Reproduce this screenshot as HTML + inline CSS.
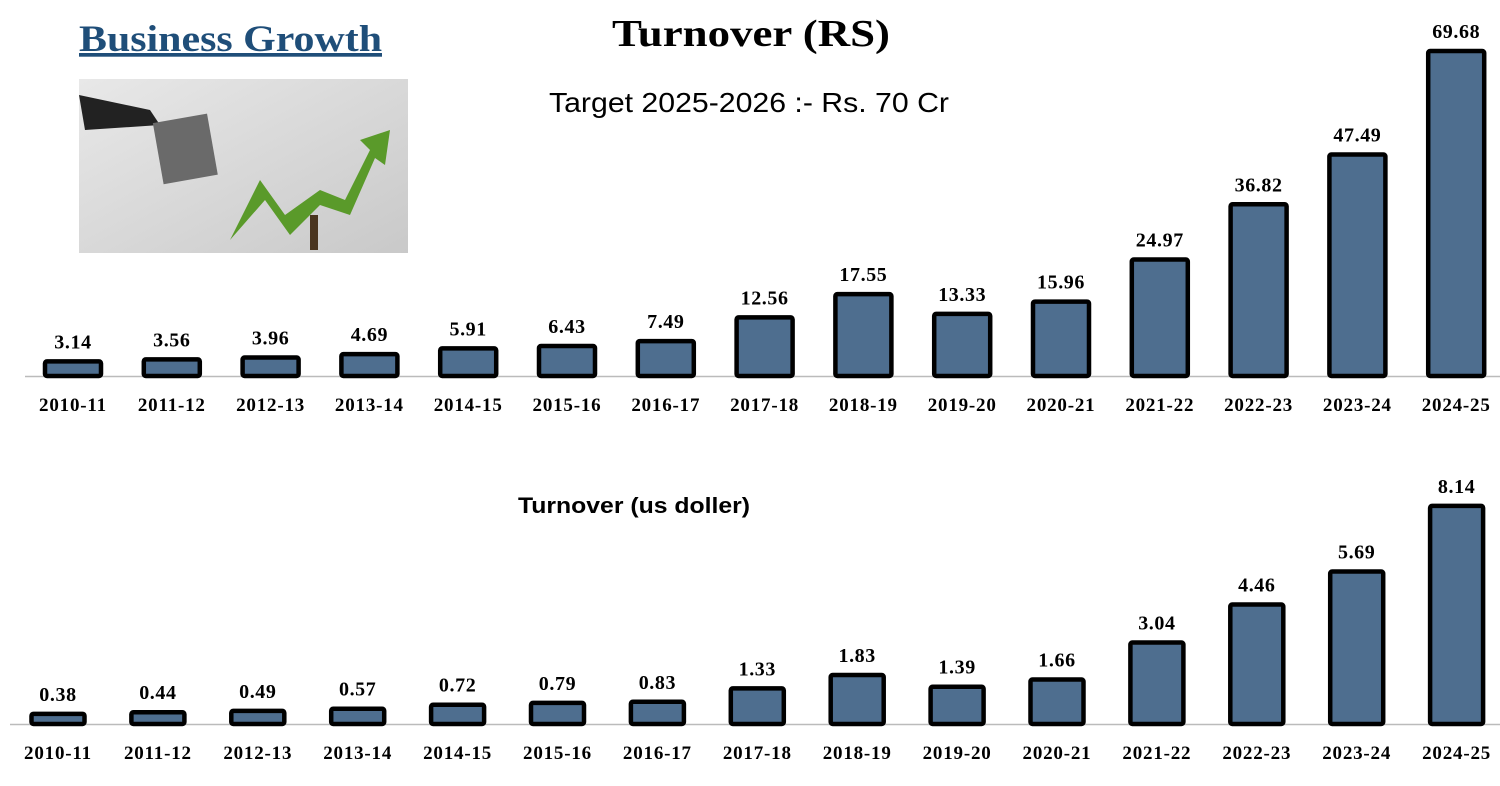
<!DOCTYPE html>
<html><head><meta charset="utf-8"><style>
body{margin:0;background:#fff;width:1500px;height:786px;overflow:hidden;}
svg{display:block}
</style></head><body>
<svg id="chart" width="1500" height="786" xmlns="http://www.w3.org/2000/svg">
<text x="79" y="51" font-family="Liberation Serif, serif" font-weight="bold" font-size="37" fill="#1f4e79" text-decoration="underline" textLength="303" lengthAdjust="spacingAndGlyphs">Business Growth</text>
<g>
<defs><linearGradient id="bg" x1="0" y1="0" x2="1" y2="1"><stop offset="0" stop-color="#e8e8e8"/><stop offset="1" stop-color="#c9c9c9"/></linearGradient></defs>
<rect x="79" y="79" width="329" height="174" fill="url(#bg)"/>
<path d="M79 95 L150 110 L160 125 L85 130 Z" fill="#222"/>
<rect x="158" y="118" width="55" height="62" fill="#6a6a6a" transform="rotate(-10 185 150)"/>
<path d="M230 240 L260 180 L285 215 L320 190 L345 200 L370 150 L360 140 L390 130 L385 165 L375 158 L350 215 L320 205 L290 235 L265 200 Z" fill="#5a9a2a"/>
<rect x="310" y="215" width="8" height="35" fill="#4a3520"/>
</g>
<text x="612" y="46" font-family="Liberation Serif, serif" font-weight="bold" font-size="38" fill="#000" textLength="278" lengthAdjust="spacingAndGlyphs">Turnover (RS)</text>
<text x="549" y="112" font-family="Liberation Sans, sans-serif" font-size="28" fill="#000" textLength="400" lengthAdjust="spacingAndGlyphs">Target 2025-2026 :- Rs. 70 Cr</text>
<text x="518" y="513" font-family="Liberation Sans, sans-serif" font-weight="bold" font-size="22" fill="#000" textLength="232" lengthAdjust="spacingAndGlyphs">Turnover (us doller)</text>
<line x1="25" y1="376.5" x2="1500" y2="376.5" stroke="#bbb" stroke-width="1.5"/>
<line x1="10" y1="724.5" x2="1500" y2="724.5" stroke="#bbb" stroke-width="1.5"/>
<g id="g1"></g><g id="g2"></g>
</svg>
<script>
const categories=["2010-11","2011-12","2012-13","2013-14","2014-15","2015-16","2016-17","2017-18","2018-19","2019-20","2020-21","2021-22","2022-23","2023-24","2024-25"];
const rsValues=[3.14,3.56,3.96,4.69,5.91,6.43,7.49,12.56,17.55,13.33,15.96,24.97,36.82,47.49,69.68];
const rsLabels=["3.14","3.56","3.96","4.69","5.91","6.43","7.49","12.56","17.55","13.33","15.96","24.97","36.82","47.49","69.68"];
const usdValues=[0.38,0.44,0.49,0.57,0.72,0.79,0.83,1.33,1.83,1.39,1.66,3.04,4.46,5.69,8.14];
const usdLabels=["0.38","0.44","0.49","0.57","0.72","0.79","0.83","1.33","1.83","1.39","1.66","3.04","4.46","5.69","8.14"];
const NS="http://www.w3.org/2000/svg";
function draw(gid,vals,labs,x0,step,base,scale,bw,labY,prefix){
  const g=document.getElementById(gid);
  const xs=i=>x0+i*step;
  const ys=v=>base-v*scale;
  vals.forEach((v,i)=>{
    const r=document.createElementNS(NS,"rect");
    
    
    const top=ys(v);
    r.setAttribute("x",xs(i)-bw/2);r.setAttribute("y",top);
    r.setAttribute("width",bw);r.setAttribute("height",base-top);
    r.setAttribute("rx",2);
    r.setAttribute("fill","#4e6e8f");r.setAttribute("stroke","#000");r.setAttribute("stroke-width","4.5");
    g.appendChild(r);
    const t=document.createElementNS(NS,"text");
    
    
    t.setAttribute("x",xs(i));t.setAttribute("y",top-13);
    t.setAttribute("text-anchor","middle");t.setAttribute("font-family","Liberation Serif, serif");
    t.setAttribute("font-weight","bold");t.setAttribute("font-size","20");
    t.setAttribute("letter-spacing","0.6");
    t.textContent=labs[i];g.appendChild(t);
    const c=document.createElementNS(NS,"text");
    
    
    c.setAttribute("x",xs(i));c.setAttribute("y",labY);
    c.setAttribute("text-anchor","middle");c.setAttribute("font-family","Liberation Serif, serif");
    c.setAttribute("font-weight","bold");c.setAttribute("font-size","19");
    c.setAttribute("letter-spacing","0.8");
    c.textContent=categories[i];g.appendChild(c);
  });
}
draw("g1",rsValues,rsLabels,73,98.8,376,4.664,56,411,"rs");
draw("g2",usdValues,usdLabels,58,99.9,724,26.8,53,759,"usd");
</script>
</body></html>
